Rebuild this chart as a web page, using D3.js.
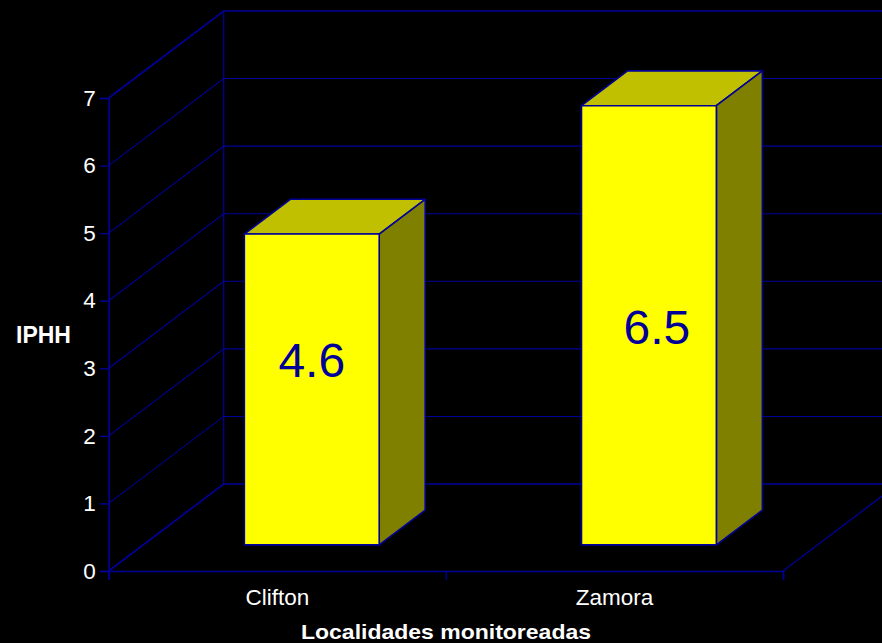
<!DOCTYPE html>
<html>
<head>
<meta charset="utf-8">
<script src="https://cdn.jsdelivr.net/npm/d3@7"></script>
<style>
  html, body { margin: 0; padding: 0; background: #000; overflow: hidden; }
  text { font-family: "Liberation Sans", Arial, sans-serif; fill: #fff; }
</style>
</head>
<body>
<div id="chart"></div>
<script>
var categories = ["Clifton", "Zamora"];
var values = [4.6, 6.5];
var yTicks = [0, 1, 2, 3, 4, 5, 6, 7];
var yTitle = "IPHH";
var xTitle = "Localidades monitoreadas";

var width = 882, height = 643;
var navy = "#000099";

// front plane of the 3d box, and how far back the depth goes
var left = 108.7, right = 783, bottom = 571, top7 = 98;
var depthX = 115, depthY = 87;

var svg = d3.select("#chart")
  .append("svg")
  .attr("width", width)
  .attr("height", height)
  .style("display", "block");

svg.append("rect")
  .attr("width", width)
  .attr("height", height)
  .attr("fill", "#000");

var y = d3.scaleLinear().domain([0, 7]).range([bottom, top7]);

var x = d3.scaleBand()
  .domain(categories)
  .range([left, right])
  .paddingInner(0.6)
  .paddingOuter(0.3);

// band edges on the front plane, for the ticks
var edges = d3.scaleLinear().domain([0, categories.length]).range([left, right]);

// gridlines: along the side wall, then across the back wall
var grid = svg.append("g").attr("fill", "none").attr("stroke", navy);

grid.selectAll("path.grid")
  .data(yTicks)
  .enter().append("path")
  .attr("class", "grid")
  .attr("stroke-width", function(d) { return d === 0 || d === 7 ? 1.7 : 1.1; })
  .attr("d", function(d) {
    return d3.line()([
      [left, y(d)],
      [left + depthX, y(d) - depthY],
      [right + depthX, y(d) - depthY]
    ]);
  });

// back wall vertical and right floor edge
grid.append("path")
  .attr("stroke-width", 1.3)
  .attr("d", d3.line()([[left + depthX, y(7) - depthY], [left + depthX, y(0) - depthY]]));

grid.append("path")
  .attr("stroke-width", 1.3)
  .attr("d", d3.line()([[right, y(0)], [right + depthX, y(0) - depthY]]));

// axes
var yAxis = d3.axisLeft(y).tickValues(yTicks).tickSize(9).tickPadding(4).tickFormat(d3.format("d"));

var gy = svg.append("g")
  .attr("transform", "translate(" + left + ",0)")
  .call(yAxis);

var xAxis = d3.axisBottom(x).tickSize(0).tickPadding(18);

var gx = svg.append("g")
  .attr("transform", "translate(0," + bottom + ")")
  .call(xAxis);

var edgeAxis = d3.axisBottom(edges)
  .tickValues(d3.range(categories.length + 1))
  .tickSize(9)
  .tickFormat("");

var ge = svg.append("g")
  .attr("transform", "translate(0," + bottom + ")")
  .call(edgeAxis);

svg.selectAll(".domain").attr("stroke", navy).attr("stroke-width", 1.7);
svg.selectAll(".tick line").attr("stroke", navy).attr("stroke-width", 1.3);
gy.selectAll("text").attr("font-size", 22.5).style("font-family", "Liberation Sans").attr("fill", "#fff");
gx.selectAll("text").attr("font-size", 22.5).style("font-family", "Liberation Sans").attr("fill", "#fff");
gx.selectAll(".tick line").remove();
gx.select(".domain").remove();

// bars stand between 30% and 70% of the depth
var z0 = 0.3, z1 = 0.7;
var bars = svg.selectAll("g.bar")
  .data(categories)
  .enter().append("g")
  .attr("class", "bar")
  .attr("stroke", navy)
  .attr("stroke-width", 1.6)
  .attr("stroke-linejoin", "round");

function corner(name, i, val, z) {
  // position of a bar corner at a given depth fraction
  return [x(name) + z * depthX, y(val) - z * depthY];
}

bars.append("path")
  .attr("fill", "#C0C000")
  .attr("d", function(d, i) {
    var w = x.bandwidth();
    var a = corner(d, i, values[i], z0), b = corner(d, i, values[i], z1);
    return d3.line()([a, [a[0] + w, a[1]], [b[0] + w, b[1]], b]) + "Z";
  });

bars.append("path")
  .attr("fill", "#808000")
  .attr("d", function(d, i) {
    var w = x.bandwidth();
    var a = corner(d, i, values[i], z0), b = corner(d, i, values[i], z1);
    var c = corner(d, i, 0, z1), e = corner(d, i, 0, z0);
    return d3.line()([[a[0] + w, a[1]], [b[0] + w, b[1]], [c[0] + w, c[1]], [e[0] + w, e[1]]]) + "Z";
  });

bars.append("rect")
  .attr("fill", "#FFFF00")
  .attr("x", function(d, i) { return corner(d, i, values[i], z0)[0]; })
  .attr("y", function(d, i) { return corner(d, i, values[i], z0)[1]; })
  .attr("width", x.bandwidth())
  .attr("height", function(d, i) { return y(0) - y(values[i]); });

// value labels, placed by hand like in the original slide
var labelShift = [0, 8];
var labelBaseline = [377, 344];
svg.selectAll("text.value")
  .data(categories)
  .enter().append("text")
  .attr("class", "value")
  .attr("x", function(d, i) { return corner(d, i, values[i], z0)[0] + x.bandwidth() / 2 + labelShift[i]; })
  .attr("y", function(d, i) { return labelBaseline[i]; })
  .attr("text-anchor", "middle")
  .attr("font-size", 48)
  .style("fill", navy)
  .text(function(d, i) { return d3.format(".1f")(values[i]); });

svg.append("text")
  .attr("x", 43.5)
  .attr("y", 343)
  .attr("text-anchor", "middle")
  .attr("font-size", 23)
  .attr("font-weight", "bold")
  .text(yTitle);

// squeezed in height so it stays inside the page, stretched back to the original width
svg.append("text")
  .attr("x", 446)
  .attr("y", 638.5)
  .attr("text-anchor", "middle")
  .attr("font-size", 21)
  .attr("font-weight", "bold")
  .attr("textLength", 290)
  .attr("lengthAdjust", "spacingAndGlyphs")
  .text(xTitle);
</script>
</body>
</html>
